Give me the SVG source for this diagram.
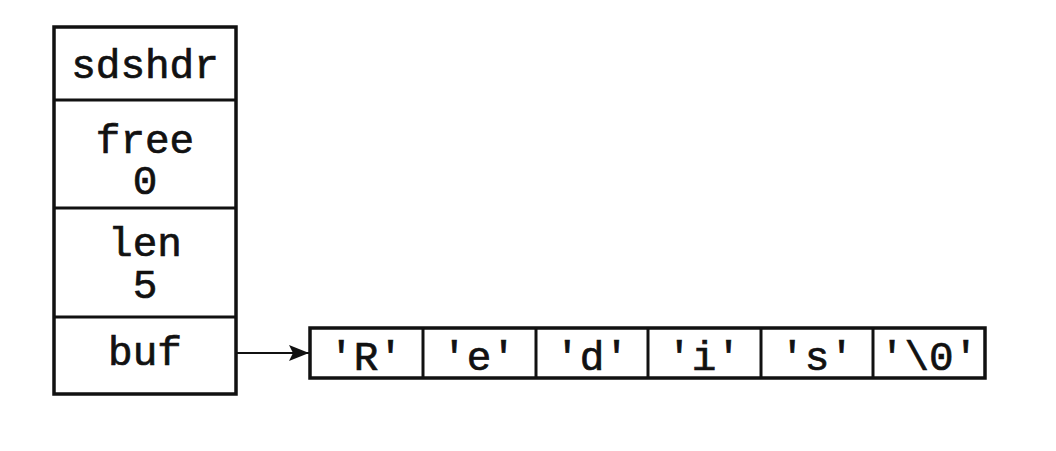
<svg xmlns="http://www.w3.org/2000/svg" width="1056" height="451" viewBox="0 0 1056 451">
<defs>
<style>
.box{fill:#fff;stroke:#111;stroke-width:3.5}
.ln{stroke:#111;stroke-width:3;fill:none}
.t{font-family:"Liberation Mono","Courier New",monospace;font-size:41px;fill:#111;text-anchor:middle;stroke:#111;stroke-width:0.7}
</style>
<marker id="arr" viewBox="0 0 10 10" refX="10" refY="5" markerWidth="20" markerHeight="16" markerUnits="userSpaceOnUse" orient="auto" preserveAspectRatio="none">
<path d="M0,0 L10,5 L0,10 L2,5 z" fill="#111"/>
</marker>
</defs>
<rect width="1056" height="451" fill="#fff"/>
<g id="sdshdr">
<rect class="box" x="54" y="27" width="182" height="367"/>
<line class="ln" x1="54" y1="100" x2="236" y2="100"/>
<line class="ln" x1="54" y1="208" x2="236" y2="208"/>
<line class="ln" x1="54" y1="317" x2="236" y2="317"/>
<text class="t" x="145" y="78">sdshdr</text>
<text class="t" x="145" y="153">free</text>
<text class="t" x="145" y="194">0</text>
<text class="t" x="145" y="256">len</text>
<text class="t" x="145" y="298">5</text>
<text class="t" x="145" y="365">buf</text>
</g>
<g id="buf-array">
<rect class="box" x="310" y="328" width="675" height="50"/>
<line class="ln" x1="423" y1="328" x2="423" y2="378"/>
<line class="ln" x1="536" y1="328" x2="536" y2="378"/>
<line class="ln" x1="648" y1="328" x2="648" y2="378"/>
<line class="ln" x1="761" y1="328" x2="761" y2="378"/>
<line class="ln" x1="873" y1="328" x2="873" y2="378"/>
<text class="t" x="366" y="370">'R'</text>
<text class="t" x="479" y="370">'e'</text>
<text class="t" x="592" y="370">'d'</text>
<text class="t" x="704" y="370">'i'</text>
<text class="t" x="817" y="370">'s'</text>
<text class="t" x="929" y="370">'\0'</text>
</g>
<g id="connectors">
<path d="M236,353 L309,353" stroke="#111" stroke-width="2" fill="none" marker-end="url(#arr)"/>
</g>
</svg>
